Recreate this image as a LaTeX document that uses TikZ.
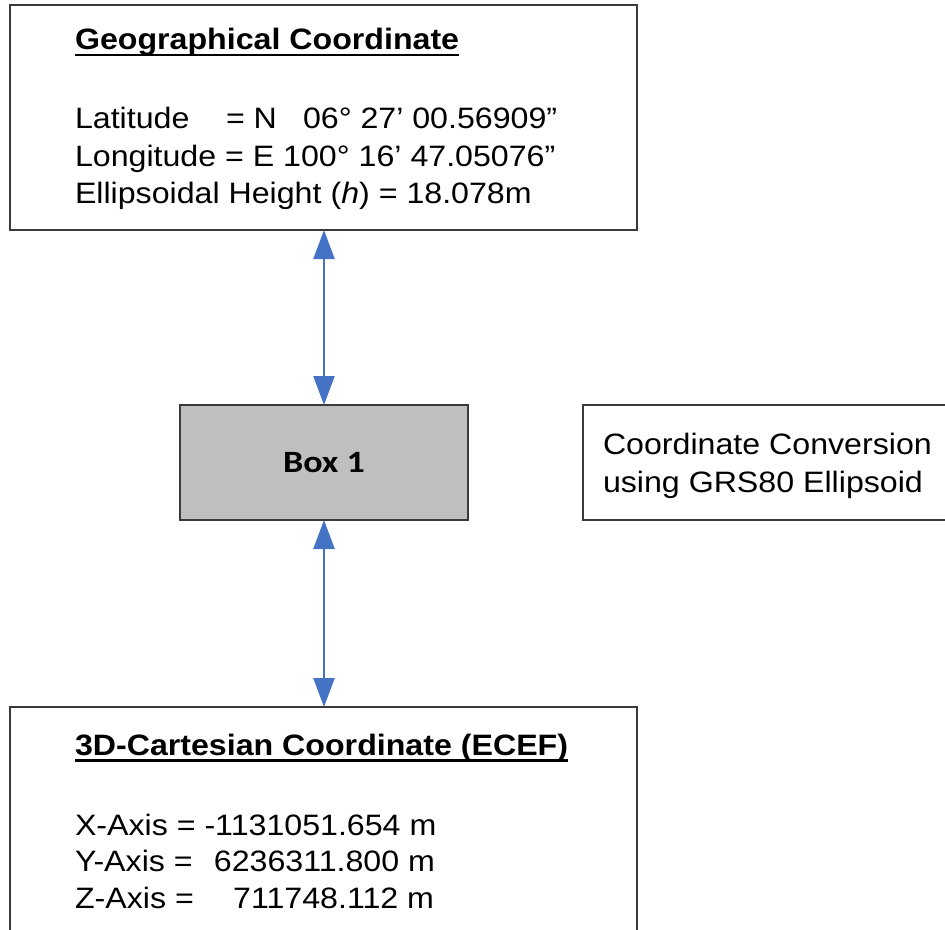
\documentclass[tikz,border=0pt]{standalone}
\usepackage{fontspec}
\setmainfont{Liberation Sans}[FakeStretch=1.09]
\newfontfamily\carlito{Carlito}[FakeStretch=1.16]
\usetikzlibrary{arrows.meta}
\definecolor{arrowblue}{HTML}{4472C4}
\definecolor{boxgray}{HTML}{BFBFBF}
\definecolor{edge}{HTML}{3A3A3A}
\begin{document}
\begin{tikzpicture}[x=1pt,y=-1pt,
  panel/.style={draw=edge,line width=1.3pt,inner sep=0pt,outer sep=0pt,fill=white},
  txt/.style={inner sep=0pt,outer sep=0pt,anchor=base west,font=\fontsize{29.5}{34}\selectfont},
  numtxt/.style={txt,anchor=base east},
  heading/.style={txt,font=\fontsize{29.5}{34}\selectfont\bfseries},
  rule/.style={line width=2.5pt},
  biarrow/.style={draw=arrowblue,line width=2.4pt,
    {Triangle[length=29pt,width=21pt]}-{Triangle[length=29pt,width=21pt]}}]
\clip (0,0) rectangle (945,929);

% boxes
\node[panel,minimum width=627pt,minimum height=225pt] (geo) at (323.5,117.5) {};
\node[panel,fill=boxgray,minimum width=288pt,minimum height=115pt] (box1) at (324,462.5) {};
\node[inner sep=0pt,anchor=base] (box1label) at (324,472.5)
  {\carlito\bfseries\fontsize{31}{36}\selectfont Box 1};
\node[panel,minimum width=627pt,minimum height=253pt] (ecef) at (323.5,833.5) {};
\node[panel,minimum width=377pt,minimum height=115pt] (note) at (771.5,462.5) {};

% connectors
\draw[biarrow] (box1.north |- geo.south) -- (box1.north);
\draw[biarrow] (box1.south) -- (box1.south |- ecef.north);

% geographical coordinate
\node[heading] (geotitle) at (75,49.5) {Geographical Coordinate};
\draw[rule] ([yshift=-5.5pt]geotitle.base west) -- ([yshift=-5.5pt]geotitle.base east);
\node[txt] (lat) at (75,128) {Latitude};
\node[txt] (lateq) at (226,128) {= N};
\node[txt] (latv) at (303,128) {06° 27’ 00.56909”};
\node[txt] (lon) at (75,166) {Longitude = E 100° 16’ 47.05076”};
\node[txt] (hgt) at (75,203) {Ellipsoidal Height (\textit{h}) = 18.078m};

% note
\node[txt] (note1) at (603,454.5) {Coordinate Conversion};
\node[txt] (note2) at (603,492.5) {using GRS80 Ellipsoid};

% cartesian coordinate
\node[heading] (eceftitle) at (75,755) {3D-Cartesian Coordinate (ECEF)};
\draw[rule] ([yshift=-5.5pt]eceftitle.base west) -- ([yshift=-5.5pt]eceftitle.base east);
\node[txt] (xa) at (75,835) {X-Axis = -1131051.654 m};
\node[txt] (ya) at (75,871.5) {Y-Axis =};
\node[numtxt] (yv) at (435,871.5) {6236311.800 m};
\node[txt] (za) at (75,908) {Z-Axis =};
\node[numtxt] (zv) at (434,908) {711748.112 m};
\end{tikzpicture}
\end{document}
